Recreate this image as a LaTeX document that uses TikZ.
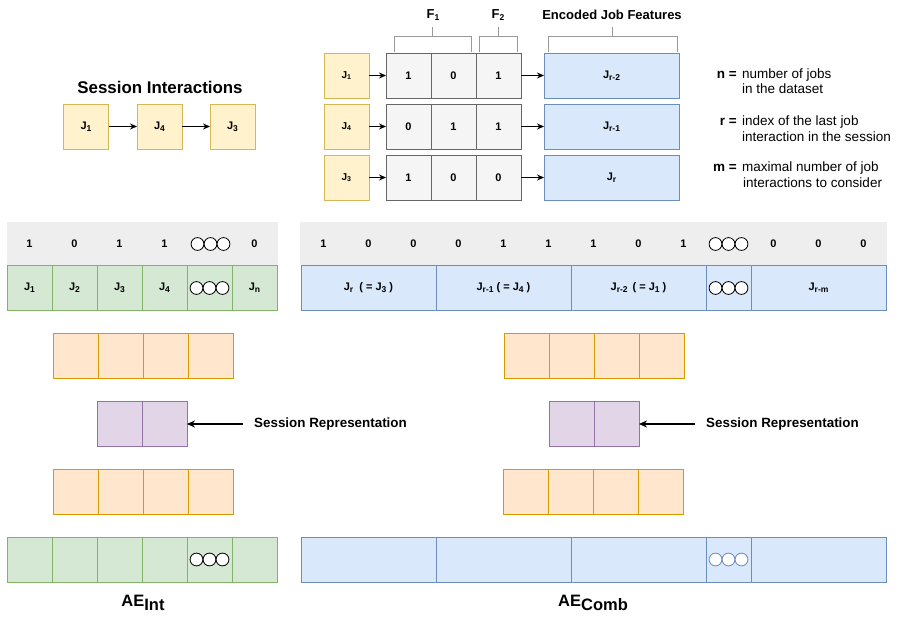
\documentclass[tikz,border=0pt]{standalone}
\usepackage{fontspec}
\setmainfont{Liberation Sans}
\usetikzlibrary{arrows.meta}
\definecolor{yfill}{HTML}{FFF2CC}\definecolor{ydraw}{HTML}{D6B656}
\definecolor{gfill}{HTML}{F5F5F5}\definecolor{gdraw}{HTML}{666666}
\definecolor{bfill}{HTML}{DAE8FC}\definecolor{bdraw}{HTML}{6C8EBF}
\definecolor{grfill}{HTML}{D5E8D4}\definecolor{grdraw}{HTML}{82B366}
\definecolor{ofill}{HTML}{FFE6CC}\definecolor{odraw}{HTML}{D79B00}
\definecolor{pfill}{HTML}{E1D5E7}\definecolor{pdraw}{HTML}{9673A6}
\definecolor{band}{HTML}{EEEEEE}
\definecolor{brk}{HTML}{999999}
\newcommand{\fs}[1]{\fontsize{#1}{#1}\selectfont}
\newcommand{\jsub}[1]{\raisebox{-2pt}{\fs{8.5}#1}}
\newcommand{\tricirc}[2][black]{\foreach \dx in {-13,0,13}{\draw[#1,fill=white,line width=0.8pt] ([xshift=\dx pt]#2) circle[radius=6.4pt];}}
\tikzset{
  cellbase/.style={draw, line width=0.8pt, inner sep=0pt, outer sep=0pt, minimum height=45pt, font=\bfseries\fs{11}},
  ybox/.style={cellbase, fill=yfill, draw=ydraw, minimum width=45pt},
  gcell/.style={cellbase, fill=gfill, draw=gdraw, minimum width=45pt},
  bbox/.style={cellbase, fill=bfill, draw=bdraw, minimum width=135pt},
  bsmall/.style={cellbase, fill=bfill, draw=bdraw, minimum width=45pt},
  grcell/.style={cellbase, fill=grfill, draw=grdraw, minimum width=45pt},
  ocell/.style={cellbase, fill=ofill, draw=odraw, minimum width=45pt},
  pcell/.style={cellbase, fill=pfill, draw=pdraw, minimum width=45pt},
  arr/.style={-{Stealth[length=7pt,width=6pt]}, line width=1pt},
  bigarr/.style={-{Stealth[length=8pt,width=7pt]}, line width=1.4pt},
  num/.style={font=\bfseries\fs{11}, inner sep=0pt},
  title/.style={font=\bfseries\fs{13}, inner sep=0pt},
  legkey/.style={font=\bfseries\fs{13.5}, inner sep=0pt, anchor=base east},
  legtxt/.style={font=\fs{13.5}, inner sep=0pt, anchor=base west},
  brack/.style={draw=brk, line width=0.8pt},
}
\begin{document}
\begin{tikzpicture}[x=1pt,y=-1pt]
\useasboundingbox (0,0) rectangle (897,617);

% Session interactions
\node[font=\bfseries\fs{16.9}, inner sep=0pt] (stitle) at (160,87) {Session Interactions};
\node[ybox] (s1) at (86,126.5) {J\jsub{1}};
\node[ybox] (s2) at (159.5,126.5) {J\jsub{4}};
\node[ybox] (s3) at (232.5,126.5) {J\jsub{3}};
\draw[arr] (s1.east) -- (s2.west);
\draw[arr] (s2.east) -- (s3.west);

% Feature encoding
\node[ybox, font=\bfseries\fs{10}] (y1) at (346.5,75.5) {J\textsubscript{1}};
\node[ybox, font=\bfseries\fs{10}] (y2) at (346.5,126.5) {J\textsubscript{4}};
\node[ybox, font=\bfseries\fs{10}] (y3) at (346.5,177.5) {J\textsubscript{3}};
\node[gcell] (g11) at (408.5,75.5) {1};
\node[gcell] (g12) at (453.5,75.5) {0};
\node[gcell] (g13) at (498.5,75.5) {1};
\node[gcell] (g21) at (408.5,126.5) {0};
\node[gcell] (g22) at (453.5,126.5) {1};
\node[gcell] (g23) at (498.5,126.5) {1};
\node[gcell] (g31) at (408.5,177.5) {1};
\node[gcell] (g32) at (453.5,177.5) {0};
\node[gcell] (g33) at (498.5,177.5) {0};
\node[bbox] (e1) at (611.5,75.5) {J\jsub{r-2}};
\node[bbox] (e2) at (611.5,126.5) {J\jsub{r-1}};
\node[bbox] (e3) at (611.5,177.5) {J\jsub{r}};
\draw[arr] (y1.east) -- (g11.west);
\draw[arr] (y2.east) -- (g21.west);
\draw[arr] (y3.east) -- (g31.west);
\draw[arr] (g13.east) -- (e1.west);
\draw[arr] (g23.east) -- (e2.west);
\draw[arr] (g33.east) -- (e3.west);

% brackets
\draw[brack] (394,52) -- (394,36) -- (471,36) -- (471,52) (432.5,36) -- (432.5,27);
\draw[brack] (479,52) -- (479,36) -- (517,36) -- (517,52) (498,36) -- (498,27);
\draw[brack] (548,52) -- (548,36) -- (677,36) -- (677,52) (612.5,36) -- (612.5,27);
\node[title] (f1) at (433,15) {F\jsub{1}};
\node[title] (f2) at (498,15) {F\jsub{2}};
\node[title] (ejf) at (612,15) {Encoded Job Features};

% legend
\node[legkey] (kn) at (737,79) {n =};
\node[legtxt] (tn1) at (742,79) {number of jobs};
\node[legtxt] (tn2) at (742,94) {in the dataset};
\node[legkey] (kr) at (737,126) {r =};
\node[legtxt] (tr1) at (742,126) {index of the last job};
\node[legtxt] (tr2) at (742,142) {interaction in the session};
\node[legkey] (km) at (737,172) {m =};
\node[legtxt] (tm1) at (742,172) {maximal number of job};
\node[legtxt] (tm2) at (743,188) {interactions to consider};

% gray bands
\fill[band] (7,222) rectangle (278,265);
\fill[band] (300,222) rectangle (887,265);

% left input vector
\foreach \v/\x [count=\i] in {1/29.5,0/74.5,1/119.5,1/164.5,0/254.5}{
  \node[num] (ln\i) at (\x,244) {\v};
}
\coordinate (lc) at (210.5,244);
\tricirc{lc}
\node[grcell] (l1) at (29.5,288) {J\jsub{1}};
\node[grcell] (l2) at (74.5,288) {J\jsub{2}};
\node[grcell] (l3) at (119.5,288) {J\jsub{3}};
\node[grcell] (l4) at (164.5,288) {J\jsub{4}};
\node[grcell] (l5) at (209.5,288) {};
\node[grcell] (l6) at (254.5,288) {J\jsub{n}};
\tricirc{l5.center}

% right input vector
\foreach \v/\x [count=\i] in {1/323.5,0/368.5,0/413.5,0/458.5,1/503.5,1/548.5,1/593.5,0/638.5,1/683.5,0/773.5,0/818.5,0/863.5}{
  \node[num] (rn\i) at (\x,244) {\v};
}
\coordinate (rc) at (728.5,244);
\tricirc{rc}
\node[bbox] (r1) at (368.5,288) {J\jsub{r}\ \ ( = J\jsub{3} )};
\node[bbox] (r2) at (503.5,288) {J\jsub{r-1} ( = J\jsub{4} )};
\node[bbox] (r3) at (638.5,288) {J\jsub{r-2} \,( = J\jsub{1} )};
\node[bsmall] (r4) at (728.5,288) {};
\node[bbox] (r5) at (818.5,288) {J\jsub{r-m}};
\tricirc{r4.center}

% left autoencoder
\foreach \x [count=\i] in {75.5,120.5,165.5,210.5}{
  \node[ocell] (lo\i) at (\x,355.5) {};
  \node[ocell] (lu\i) at (\x,491.5) {};
}
\node[pcell] (lp1) at (119.5,424) {};
\node[pcell] (lp2) at (164.5,424) {};
\node[font=\bfseries\fs{13.4}, inner sep=0pt, anchor=west] (lsr) at (254,424) {Session Representation};
\coordinate (la) at (243,424);
\draw[bigarr] (la) -- (lp2.east);

% right autoencoder
\foreach \x [count=\i] in {526.5,571.5,616.5,661.5}{
  \node[ocell] (ro\i) at (\x,355.5) {};
  \node[ocell] (ru\i) at (\x-1,491.5) {};
}
\node[pcell] (rp1) at (571.5,424) {};
\node[pcell] (rp2) at (616.5,424) {};
\node[font=\bfseries\fs{13.4}, inner sep=0pt, anchor=west] (rsr) at (706,424) {Session Representation};
\coordinate (ra) at (695,424);
\draw[bigarr] (ra) -- (rp2.east);

% outputs
\foreach \x [count=\i] in {29.5,74.5,119.5,164.5,209.5,254.5}{
  \node[grcell] (lout\i) at (\x,559.5) {};
}
\tricirc{lout5.center}
\node[bbox] (rout1) at (368.5,559.5) {};
\node[bbox] (rout2) at (503.5,559.5) {};
\node[bbox] (rout3) at (638.5,559.5) {};
\node[bsmall] (rout4) at (728.5,559.5) {};
\node[bbox] (rout5) at (818.5,559.5) {};
\tricirc[bdraw]{rout4.center}

\node[font=\bfseries\fs{16.5}, inner sep=0pt] (aei) at (143,603) {AE\raisebox{-4.5pt}{Int}};
\node[font=\bfseries\fs{16.5}, inner sep=0pt] (aec) at (593,603) {AE\raisebox{-4.5pt}{Comb}};
\end{tikzpicture}
\end{document}
